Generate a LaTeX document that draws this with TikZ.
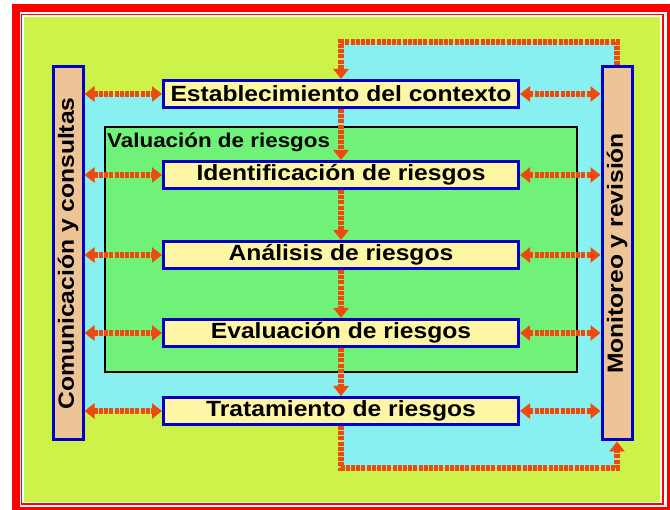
\documentclass[tikz,border=0pt]{standalone}
\usepackage{fontspec}
\setmainfont{Liberation Sans}[FakeStretch=1.12]
\usetikzlibrary{arrows.meta}

\definecolor{limebg}{RGB}{205,243,75}
\definecolor{cyanbg}{RGB}{136,240,240}
\definecolor{greenbg}{RGB}{112,242,120}
\definecolor{tanbar}{RGB}{236,196,150}
\definecolor{boxfill}{RGB}{255,246,165}
\definecolor{boxline}{RGB}{0,0,200}
\definecolor{flowred}{RGB}{235,75,15}
\definecolor{flowlight}{RGB}{250,190,110}

\begin{document}
\begin{tikzpicture}[x=1pt, y=-1pt,
		stage/.style={draw=boxline, line width=3pt, fill=boxfill, minimum width=355pt, minimum height=27pt, inner sep=0pt, font=\fontsize{22}{24}\selectfont\bfseries},
		sidebar/.style={draw=boxline, line width=3pt, fill=tanbar, minimum width=30pt, minimum height=373pt, inner sep=0pt},
		sidetext/.style={rotate=90, inner sep=0pt, font=\fontsize{22}{24}\selectfont\bfseries},
		flow/.style={preaction={draw=flowlight}, draw=flowred, line width=5.5pt, dash pattern=on 4pt off 1.2pt, >={Triangle[width=15pt, length=10pt]}}]
				\useasboundingbox (0,0) rectangle (670,510);
				\fill[white] (0,0) rectangle (670,510);
				\draw[red, line width=8pt] (16,8) rectangle (671,511);
				\draw[red, line width=1.2pt] (21.5,14.5) rectangle (663,504);
				\fill[limebg] (24,17) rectangle (660,502);
				\fill[cyanbg] (83,94) -- (341,94) -- (341,42) -- (615,42) -- (615,468) -- (341,468) -- (341,411) -- (83,411) -- cycle;
				\node[draw=black, line width=1.5pt, fill=greenbg, minimum width=472pt, minimum height=245pt] (VR) at (341,249.5) {};
				\node[anchor=base west, inner sep=0pt, font=\fontsize{20}{22}\selectfont\bfseries] (VRtitle) at (107,148) {Valuación de riesgos};
				\node[stage] (EC) at (341,94) {Establecimiento del contexto};
				\node[stage] (IR) at (341,175) {Identificación de riesgos};
				\node[stage] (AR) at (341,255) {Análisis de riesgos};
				\node[stage] (ER) at (341,333) {Evaluación de riesgos};
				\node[stage] (TR) at (341,411) {Tratamiento de riesgos};
				\node[sidebar, label={[sidetext]center:Comunicación y consultas}] (CC) at (68,253.5) {};
				\node[sidebar, label={[sidetext]center:Monitoreo y revisión}] (MR) at (617,253.5) {};
				\coordinate (looptop) at (341,42);
				\coordinate (loopbot) at (341,468);
				\foreach \s in {EC,IR,AR,ER,TR} {
					\draw[flow, <->] (CC.east |- \s) -- (\s.west);
					\draw[flow, <->] (\s.east) -- (MR.west |- \s);
				}
				\foreach \a/\b in {EC/IR, IR/AR, AR/ER, ER/TR}
					\draw[flow, ->] (\a.south) -- (\b.north);
				\draw[flow, ->] (MR.north) |- (looptop) -- (EC.north);
				\draw[flow, ->] (TR.south) -- (loopbot) -| (MR.south);
			\end{tikzpicture}
\end{document}
